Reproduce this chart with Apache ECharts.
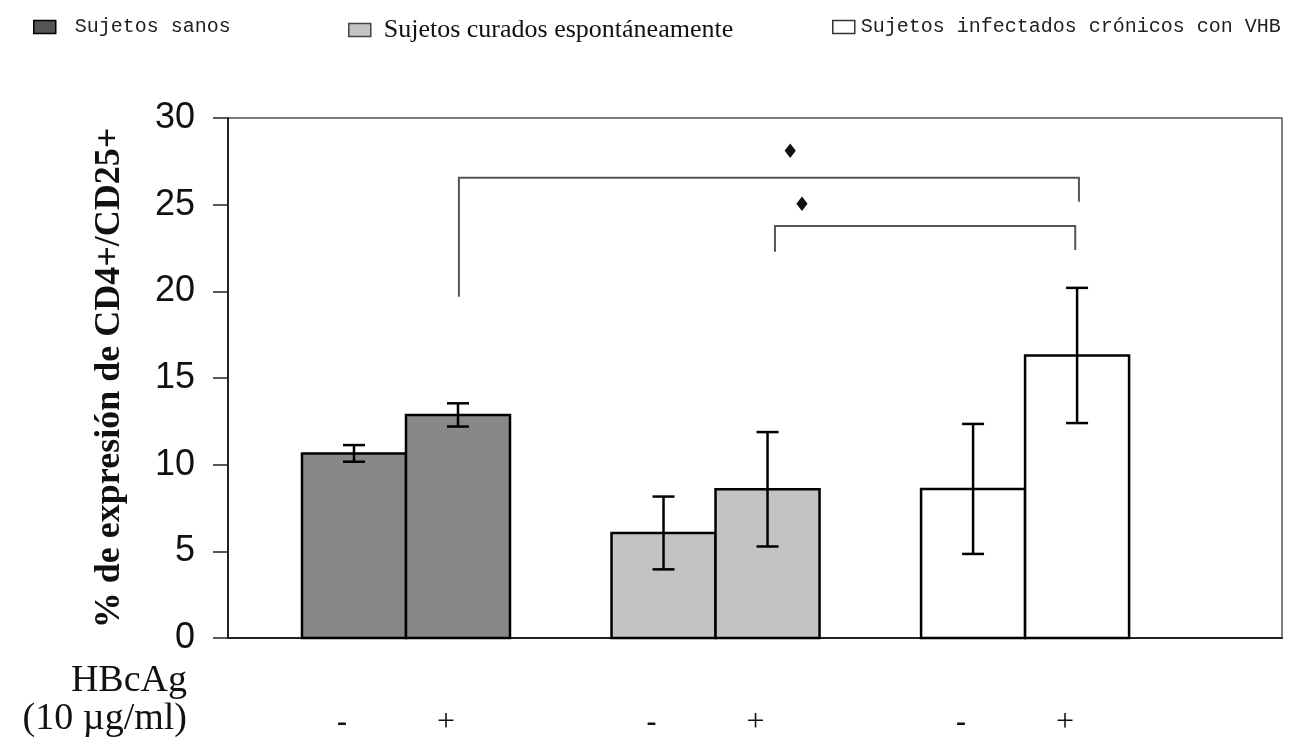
<!DOCTYPE html>
<html>
<head>
<meta charset="utf-8">
<script src="https://cdn.jsdelivr.net/npm/echarts@6/dist/echarts.min.js"></script>
<style>html,body{margin:0;padding:0;background:#fff;}#c{width:1310px;height:746px;}</style>
</head>
<body>
<div id="c"></div>
<script>
// ---- data ----
const groupNames = ['Sujetos sanos', 'Sujetos curados espontáneamente', 'Sujetos infectados crónicos con VHB'];
const treatmentLabels = ['-', '+'];
const meanSanos = [10.65, 12.87];
const errSanos = [0.48, 0.67];
const meanCurados = [6.06, 8.58];
const errCurados = [2.1, 3.3];
const meanCronicos = [8.6, 16.3];
const errCronicos = [3.75, 3.9];
const yTicks = [0, 5, 10, 15, 20, 25, 30];
const yAxisTitle = '% de expresión de CD4+/CD25+';
const bottomTitle1 = 'HBcAg';
const bottomTitle2 = '(10 µg/ml)';
// significance brackets (x in group units, y in %): [xLeft, xRight, lineY, leftBottomY, rightBottomY]
const brackets = [
  [0.171, 2.174, 26.56, 19.69, 25.17],
  [1.192, 2.162, 23.77, 22.29, 22.38]
];
// significance marks: [x, y]
const sigMarks = [
  [1.241, 27.98],
  [1.279, 24.92]
];

// ---- layout constants ----
const groupColors = ['#86888a', '#c3c3c3', '#ffffff'];
const halfW = 0.168;   // half bar width in group units
const means = [meanSanos, meanCurados, meanCronicos];
const errs = [errSanos, errCurados, errCronicos];

function barCenter(g, t) { return g + (t === 0 ? -halfW : halfW); }

const barData = [];
const errData = [];
const labelData = [];
for (let g = 0; g < 3; g++) {
  for (let t = 0; t < 2; t++) {
    barData.push({ value: [g, t, means[g][t]], name: groupNames[g] });
    errData.push([barCenter(g, t), means[g][t], errs[g][t]]);
    labelData.push([barCenter(g, t), t]);
  }
}

const chart = echarts.init(document.getElementById('c'), null, { renderer: 'canvas' });

function barSeries(g) {
  return {
    type: 'custom',
    name: groupNames[g],
    z: 2,
    itemStyle: { color: groupColors[g], borderColor: '#000', borderWidth: 2.5 },
    renderItem: function (params, api) {
      const gi = api.value(0), t = api.value(1), v = api.value(2);
      const cx = barCenter(gi, t);
      const p1 = api.coord([cx - halfW, v]);
      const p2 = api.coord([cx + halfW, 0]);
      return {
        type: 'rect',
        shape: { x: p1[0], y: p1[1], width: p2[0] - p1[0], height: p2[1] - p1[1] },
        style: { fill: groupColors[gi], stroke: '#000', lineWidth: 2.5 }
      };
    },
    data: barData.filter(d => d.value[0] === g)
  };
}

const option = {
  animation: false,
  backgroundColor: '#fff',
  grid: { left: 228, right: 28, top: 118, bottom: 108, show: true, borderColor: '#555', borderWidth: 1.5 },
  legend: [
    { data: [groupNames[0]], left: 28, top: 12, itemWidth: 22, itemHeight: 13, icon: 'rect',
      itemStyle: { borderColor: '#000', borderWidth: 1.5, color: '#555' },
      textStyle: { fontFamily: '"Liberation Mono", monospace', fontSize: 20, color: '#222', padding: [0, 0, 0, 14] } },
    { data: [groupNames[1]], left: 343, top: 12, itemWidth: 22, itemHeight: 13, icon: 'rect',
      itemStyle: { borderColor: '#444', borderWidth: 1.5, color: '#c3c3c3' },
      textStyle: { fontFamily: '"Liberation Serif", serif', fontSize: 26, color: '#111', padding: [0, 0, 0, 8] } },
    { data: [groupNames[2]], left: 827, top: 12, itemWidth: 22, itemHeight: 13, icon: 'rect',
      itemStyle: { borderColor: '#333', borderWidth: 1.5, color: '#fff' },
      textStyle: { fontFamily: '"Liberation Mono", monospace', fontSize: 20, color: '#222', padding: [0, 0, 0, 1] } }
  ],
  xAxis: {
    type: 'value', min: -0.575, max: 2.83,
    axisLine: { show: true, onZero: false, lineStyle: { color: '#222', width: 2 } },
    axisTick: { show: false }, axisLabel: { show: false }, splitLine: { show: false }
  },
  yAxis: {
    type: 'value', min: yTicks[0], max: yTicks[yTicks.length - 1], interval: 5,
    name: yAxisTitle, nameLocation: 'middle', nameGap: 100, nameRotate: 90,
    nameTextStyle: { fontFamily: '"Liberation Serif", serif', fontWeight: 'bold', fontSize: 36, color: '#111' },
    axisLine: { show: true, onZero: false, lineStyle: { color: '#222', width: 2 } },
    axisTick: { show: true, length: 15, lineStyle: { color: '#222', width: 1.5 } },
    axisLabel: { margin: 33, fontFamily: '"Liberation Sans", Arial, sans-serif', fontSize: 36, color: '#111' },
    splitLine: { show: false }
  },
  graphic: [
    { type: 'text', right: 1310 - 187, top: 662, style: { text: bottomTitle1, font: '38px "Liberation Serif", serif', fill: '#111', textAlign: 'right' } },
    { type: 'text', right: 1310 - 187, top: 700, style: { text: bottomTitle2, font: '38px "Liberation Serif", serif', fill: '#111', textAlign: 'right' } }
  ],
  series: [
    barSeries(0), barSeries(1), barSeries(2),
    {
      type: 'custom', name: 'err', z: 5, silent: true,
      renderItem: function (params, api) {
        const x = api.value(0), m = api.value(1), e = api.value(2);
        const top = api.coord([x, m + e]);
        const bot = api.coord([x, m - e]);
        const cap = 11;
        const st = { stroke: '#000', lineWidth: 2.5 };
        return { type: 'group', children: [
          { type: 'line', shape: { x1: top[0], y1: top[1], x2: bot[0], y2: bot[1] }, style: st },
          { type: 'line', shape: { x1: top[0] - cap, y1: top[1], x2: top[0] + cap, y2: top[1] }, style: st },
          { type: 'line', shape: { x1: bot[0] - cap, y1: bot[1], x2: bot[0] + cap, y2: bot[1] }, style: st }
        ]};
      },
      data: errData
    },
    {
      type: 'custom', name: 'brackets', z: 5, silent: true,
      renderItem: function (params, api) {
        const x1 = api.value(0), x2 = api.value(1);
        const pA = api.coord([x1, api.value(3)]);
        const pB = api.coord([x1, api.value(2)]);
        const pC = api.coord([x2, api.value(2)]);
        const pD = api.coord([x2, api.value(4)]);
        return { type: 'polyline', shape: { points: [pA, pB, pC, pD] }, style: { stroke: '#555', lineWidth: 2, fill: null } };
      },
      data: brackets
    },
    {
      type: 'custom', name: 'sig', z: 5, silent: true,
      renderItem: function (params, api) {
        const p = api.coord([api.value(0), api.value(1)]);
        return { type: 'text', x: p[0], y: p[1], style: { text: '♦', font: 'bold 20px "DejaVu Sans", sans-serif', fill: '#111', textAlign: 'center', textVerticalAlign: 'middle' } };
      },
      data: sigMarks
    },
    {
      type: 'custom', name: 'treat', z: 5, silent: true, clip: false,
      renderItem: function (params, api) {
        const p = api.coord([api.value(0), 0]);
        const t = api.value(1);
        return { type: 'text', x: p[0] - 12, y: p[1] + 85, style: { text: treatmentLabels[t], font: (t === 0 ? 'bold 30px' : '32px') + ' "Liberation Serif", serif', fill: '#111', textAlign: 'center', textVerticalAlign: 'middle' } };
      },
      data: labelData
    }
  ]
};
chart.setOption(option);
</script>
</body>
</html>
